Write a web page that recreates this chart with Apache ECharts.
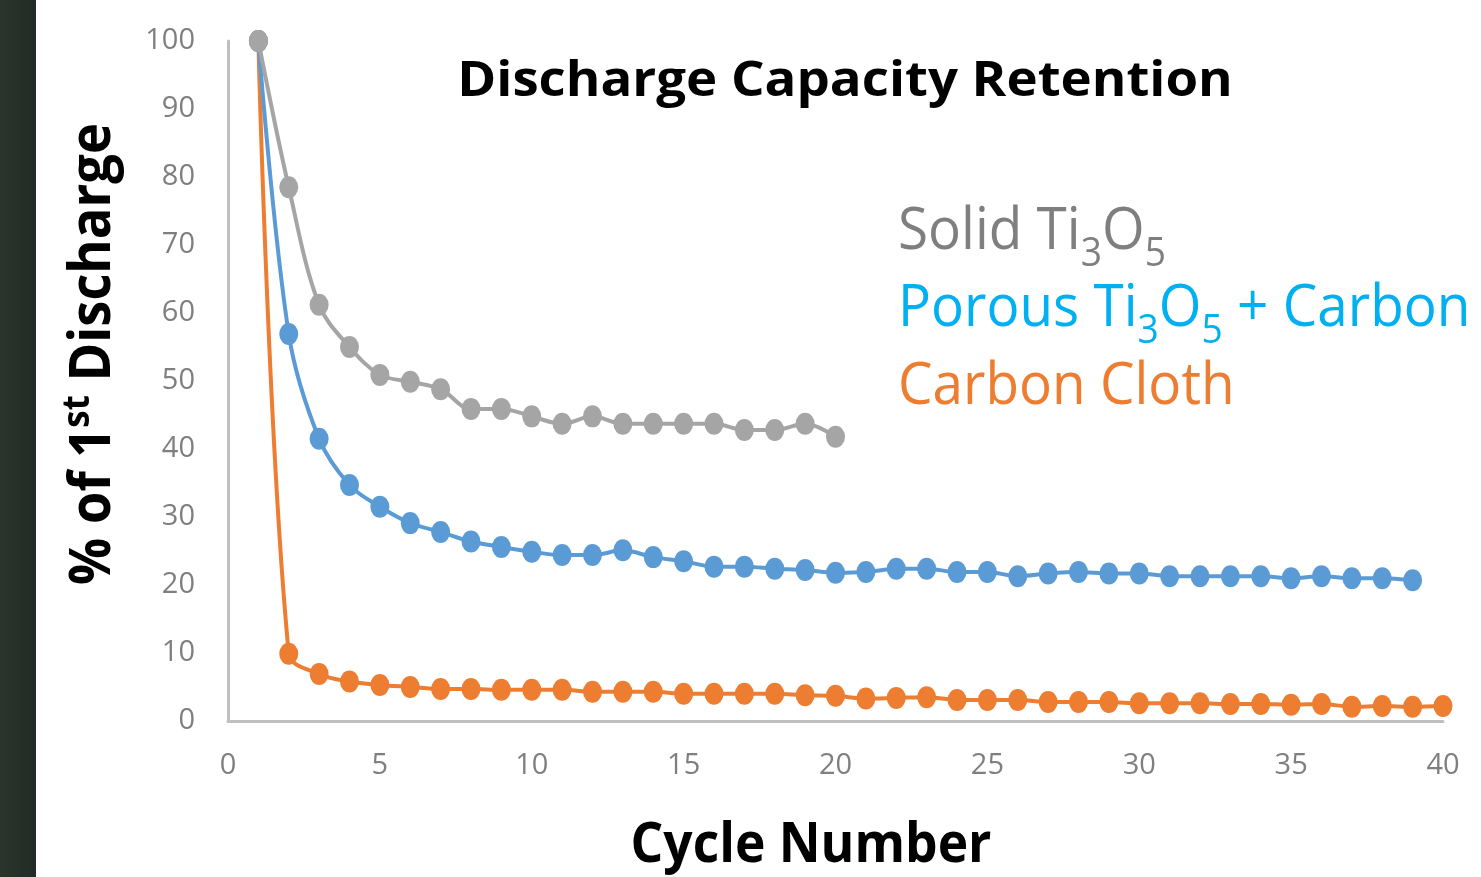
<!DOCTYPE html>
<html>
<head>
<meta charset="utf-8">
<title>Discharge Capacity Retention</title>
<script src="https://cdn.jsdelivr.net/npm/echarts@6/dist/echarts.min.js"></script>
<style>
html, body { margin: 0; padding: 0; background: #fff; }
#main { width: 1481px; height: 877px; }
</style>
</head>
<body>
<div id="main"></div>
<script>
// % of 1st discharge, one value per cycle (cycle = index + 1)
var solidTi3O5 = [100, 78.5, 61.2, 55.0, 50.9, 49.9, 48.8, 45.9, 45.9, 44.8,
    43.7, 44.8, 43.7, 43.7, 43.7, 43.7, 42.8, 42.8, 43.7, 41.8];
var porousTi3O5Carbon = [100, 56.9, 41.5, 34.7, 31.5, 29.1, 27.8, 26.4, 25.6, 24.9,
    24.4, 24.4, 25.1, 24.1, 23.5, 22.7, 22.7, 22.4, 22.2, 21.8,
    21.9, 22.4, 22.4, 21.9, 21.9, 21.3, 21.7, 21.9, 21.7, 21.7,
    21.3, 21.3, 21.3, 21.3, 21.0, 21.3, 21.0, 21.0, 20.7];
var carbonCloth = [100, 9.9, 6.9, 5.8, 5.3, 5.0, 4.7, 4.7, 4.6, 4.6,
    4.6, 4.3, 4.3, 4.3, 4.0, 4.0, 4.0, 4.0, 3.8, 3.7,
    3.3, 3.4, 3.5, 3.1, 3.1, 3.1, 2.8, 2.8, 2.8, 2.6,
    2.6, 2.6, 2.5, 2.5, 2.4, 2.5, 2.1, 2.2, 2.1, 2.2];

var xMin = 0, xMax = 40, xStep = 5;
var yMin = 0, yMax = 100, yStep = 10;

var myChart = echarts.init(document.getElementById('main'));

// turn a list into [cycle, value] pairs
function toPairs(list) {
    return list.map(function (v, i) { return [i + 1, v]; });
}

function lineSeries(name, list, color) {
    return {
        name: name,
        type: 'line',
        data: toPairs(list),
        smooth: 0.35,
        symbol: 'circle',
        symbolSize: [19, 22],
        lineStyle: { width: 4, color: color },
        itemStyle: { color: color },
        emphasis: { disabled: true }
    };
}

var calibri = '"Open Sans"';
var tickLabel = { color: '#7F7F7F', fontSize: 29, fontFamily: 'Open Sans' };

var option = {
    animation: false,
    backgroundColor: '#fff',
    grid: { left: 228, right: 38, top: 41, bottom: 156 },
    xAxis: {
        type: 'value',
        min: xMin, max: xMax, interval: xStep,
        axisLine: { show: true, lineStyle: { color: '#BFBFBF', width: 3 } },
        axisTick: { show: false },
        splitLine: { show: false },
        axisLabel: Object.assign({ margin: 30 }, tickLabel)
    },
    yAxis: {
        type: 'value',
        min: yMin, max: yMax, interval: yStep,
        axisLine: { show: true, lineStyle: { color: '#BFBFBF', width: 3 } },
        axisTick: { show: false },
        splitLine: { show: false },
        axisLabel: Object.assign({ margin: 33 }, tickLabel)
    },
    series: [
        lineSeries('Carbon Cloth', carbonCloth, '#ED7D31'),
        lineSeries('Porous Ti3O5 + Carbon', porousTi3O5Carbon, '#5B9BD5'),
        lineSeries('Solid Ti3O5', solidTi3O5, '#A5A5A5')
    ],
    graphic: [
        {
            type: 'rect', x: 0, y: 0, silent: true,
            shape: { width: 36, height: 877 },
            style: {
                fill: new echarts.graphic.LinearGradient(0, 0, 1, 0, [
                    { offset: 0, color: '#2a352e' },
                    { offset: 1, color: '#212a24' }
                ])
            }
        },
        {
            type: 'text', x: 845, y: 82, scaleX: 1.077, silent: true,
            style: {
                text: 'Discharge Capacity Retention',
                font: 'bold 49px ' + calibri, fill: '#000',
                align: 'center', verticalAlign: 'middle',
                textAlign: 'center', textVerticalAlign: 'middle'
            }
        },
        {
            type: 'text', x: 811, y: 846, scaleX: 0.92, silent: true,
            style: {
                text: 'Cycle Number',
                font: 'bold 56px ' + calibri, fill: '#000',
                align: 'center', verticalAlign: 'middle',
                textAlign: 'center', textVerticalAlign: 'middle'
            }
        },
        {
            // y axis name with superscript
            type: 'text', x: 94, y: 354, rotation: Math.PI / 2, scaleX: 0.92, silent: true,
            style: {
                text: '{m|% of 1}{p|st}{m| Discharge}',
                font: 'bold 57px ' + calibri, fill: '#000',
                align: 'center', verticalAlign: 'middle',
                textAlign: 'center', textVerticalAlign: 'middle',
                rich: {
                    m: { font: 'bold 57px ' + calibri, fill: '#000', lineHeight: 70, verticalAlign: 'top', padding: [6, 0, 0, 0] },
                    p: { font: 'bold 38px ' + calibri, fill: '#000', lineHeight: 70, verticalAlign: 'top', padding: [0, 0, 6, 0] }
                }
            }
        }
    ]
};

// legend lines drawn as text, with subscripts
var legendLines = [
    { text: '{m|Solid Ti}{s|3}{m|O}{s|5}', color: '#7F7F7F', top: 203 },
    { text: '{m|Porous Ti}{s|3}{m|O}{s|5}{m| + Carbon}', color: '#00B0F0', top: 280 },
    { text: '{m|Carbon Cloth}', color: '#ED7D31', top: 358 }
];
legendLines.forEach(function (l) {
    option.graphic.push({
        type: 'text', x: 898, y: l.top, scaleX: 0.93, silent: true,
        style: {
            text: l.text,
            font: '59px ' + calibri, fill: l.color,
            align: 'left', verticalAlign: 'top',
            textAlign: 'left', textVerticalAlign: 'top',
            rich: {
                m: { font: '59px ' + calibri, fill: l.color, lineHeight: 70, verticalAlign: 'top', padding: [0, 0, 32, 0] },
                s: { font: '40px ' + calibri, fill: l.color, lineHeight: 70, verticalAlign: 'top', padding: [32, 0, 0, 0] }
            }
        }
    });
});

myChart.setOption(option);
</script>
</body>
</html>
